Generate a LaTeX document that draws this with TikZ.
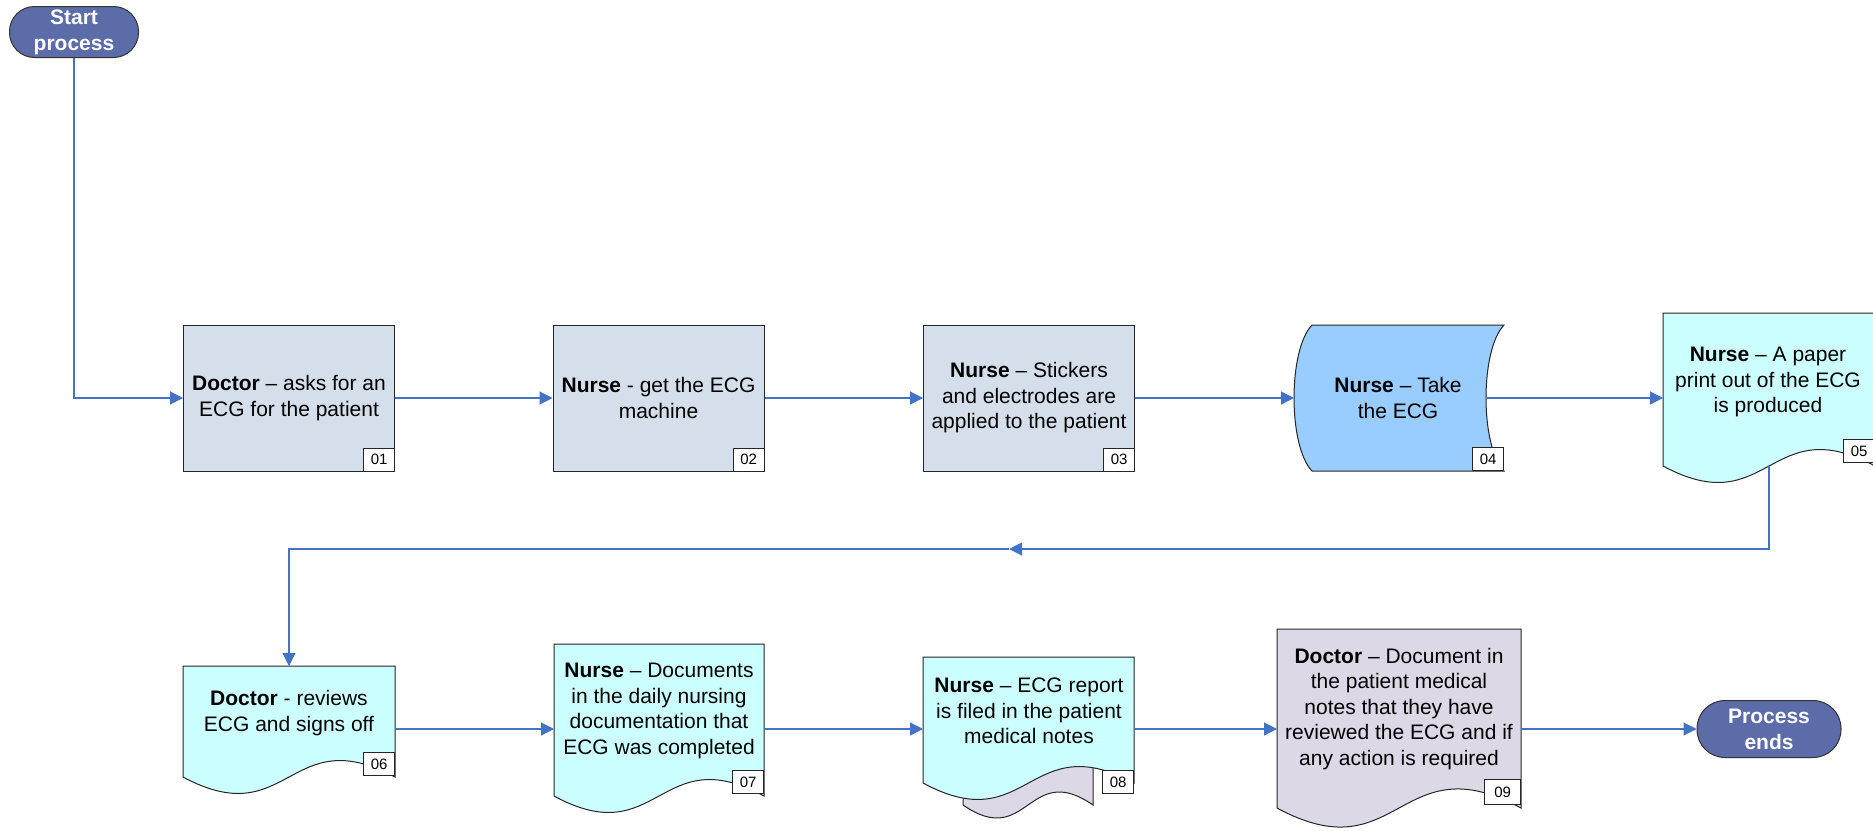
\documentclass[tikz,border=0pt]{standalone}
\usepackage{fontspec}
\setmainfont{Liberation Sans}
\usetikzlibrary{arrows.meta}
\definecolor{connblue}{HTML}{4472C4}
\definecolor{termfill}{HTML}{5C6CA9}
\definecolor{grayblue}{HTML}{D5DFEB}
\definecolor{lightblue}{HTML}{99CCFF}
\definecolor{cyanfill}{HTML}{CCFFFF}
\definecolor{lavender}{HTML}{DCD8E6}
\newcommand\docpath[5]{(#1,#2) -- (#3,#2) -- (#3,#4) .. controls ({(#1+#3)/2},{#4-#5}) and ({(#1+#3)/2},{#4+#5}) .. (#1,#4) -- cycle}
\begin{document}
\begin{tikzpicture}[x=1pt,y=-1pt,
  txt/.style={align=center, font=\fontsize{21}{25.5}\selectfont, inner sep=0pt},
  term/.style={draw=black!80, fill=termfill, rounded corners=25pt, minimum width=129pt, minimum height=51pt, text=white, font=\bfseries\fontsize{21}{26}\selectfont, align=center, inner sep=0pt, line width=1pt},
  procbox/.style={draw=black!85, fill=grayblue, minimum width=211pt, minimum height=146pt, line width=1pt, inner sep=0pt, align=center, font=\fontsize{21}{25.5}\selectfont},
  shapeline/.style={draw=black!85, line width=1pt},
  numbox/.style={draw=black!85, fill=white, line width=0.8pt, minimum width=31pt, minimum height=23pt, inner sep=0pt, font=\fontsize{15}{15}\selectfont, anchor=south east},
  conn/.style={draw=connblue, line width=1.1pt, -{Triangle[length=13pt,width=13pt]}},
]
\useasboundingbox (0,0) rectangle (1873,830);

% terminators
\node[term] (start) at (74,32) {Start\\process};
\node[term, minimum width=144pt, minimum height=57pt, rounded corners=28pt] (end) at (1769,729) {Process\\ends};

% row 1 process boxes
\node[procbox] (b01) at (289,398) {\textbf{Doctor} – asks for an\\ECG for the patient};
\node[numbox] at (b01.south east) {01};
\node[procbox] (b02) at (658.5,398) {\textbf{Nurse} - get the ECG\\machine};
\node[numbox] at (b02.south east) {02};
\node[procbox] (b03) at (1029,398) {\textbf{Nurse} – Stickers\\and electrodes are\\applied to the patient};
\node[numbox] at (b03.south east) {03};

% box 04 (stored data shape)
\path[shapeline, fill=lightblue] (1312,325) -- (1504,325) .. controls (1480,350) and (1480,446) .. (1504,471) -- (1312,471) .. controls (1288,446) and (1288,350) .. (1312,325) -- cycle;
\node[txt] (b04) at (1398,398) {\textbf{Nurse} – Take\\the ECG};
\coordinate (b04in) at (1294,398);
\coordinate (b04out) at (1486,398);
\node[numbox] at (1504,471) {04};

% box 05 (document)
\path[shapeline, fill=cyanfill] \docpath{1663}{313}{1875}{466}{57};
\node[txt] (b05) at (1768,382) {\textbf{Nurse} – A paper\\print out of the ECG\\is produced};
\coordinate (b05in) at (1663,398);
\coordinate (b05out) at (1769,466);
\node[numbox] at (1875,463) {05};

% box 06
\path[shapeline, fill=cyanfill] \docpath{183}{666}{395}{777}{57};
\node[txt] (b06) at (289,713) {\textbf{Doctor} - reviews\\ECG and signs off};
\coordinate (b06in) at (289,666);
\coordinate (b06out) at (395,729);
\node[numbox] at (395,776) {06};

% box 07
\path[shapeline, fill=cyanfill] \docpath{554}{644}{764}{796}{57};
\node[txt] (b07) at (659,711) {\textbf{Nurse} – Documents\\in the daily nursing\\documentation that\\ECG was completed};
\coordinate (b07in) at (554,729);
\coordinate (b07out) at (764,729);
\node[numbox] at (764,794) {07};

% box 08 (with sheet behind)
\path[shapeline, fill=lavender] \docpath{963}{700}{1093}{805}{45};
\path[shapeline, fill=cyanfill] \docpath{923}{657}{1134}{783}{57};
\node[txt] (b08) at (1029,711) {\textbf{Nurse} – ECG report\\is filed in the patient\\medical notes};
\coordinate (b08in) at (923,729);
\coordinate (b08out) at (1134,729);
\node[numbox] at (1134,794) {08};

% box 09
\path[shapeline, fill=lavender] \docpath{1277}{629}{1521}{808}{66};
\node[txt] (b09) at (1399,709) {\textbf{Doctor} – Document in\\the patient medical\\notes that they have\\reviewed the ECG and if\\any action is required};
\coordinate (b09in) at (1277,729);
\coordinate (b09out) at (1521,729);
\node[numbox, minimum width=36pt, minimum height=25pt] at (1521,805) {09};

% connectors
\coordinate (fbmid) at (1009,549);
\draw[conn] (start.south) |- (b01.west);
\draw[conn] (b01) -- (b02);
\draw[conn] (b02) -- (b03);
\draw[conn] (b03.east) -- (b04in);
\draw[conn] (b04out) -- (b05in);
\draw[conn] (b05out) |- (fbmid);
\draw[conn] (fbmid) -| (b06in);
\draw[conn] (b06out) -- (b07in);
\draw[conn] (b07out) -- (b08in);
\draw[conn] (b08out) -- (b09in);
\draw[conn] (b09out) -- (end.west);
\end{tikzpicture}
\end{document}
